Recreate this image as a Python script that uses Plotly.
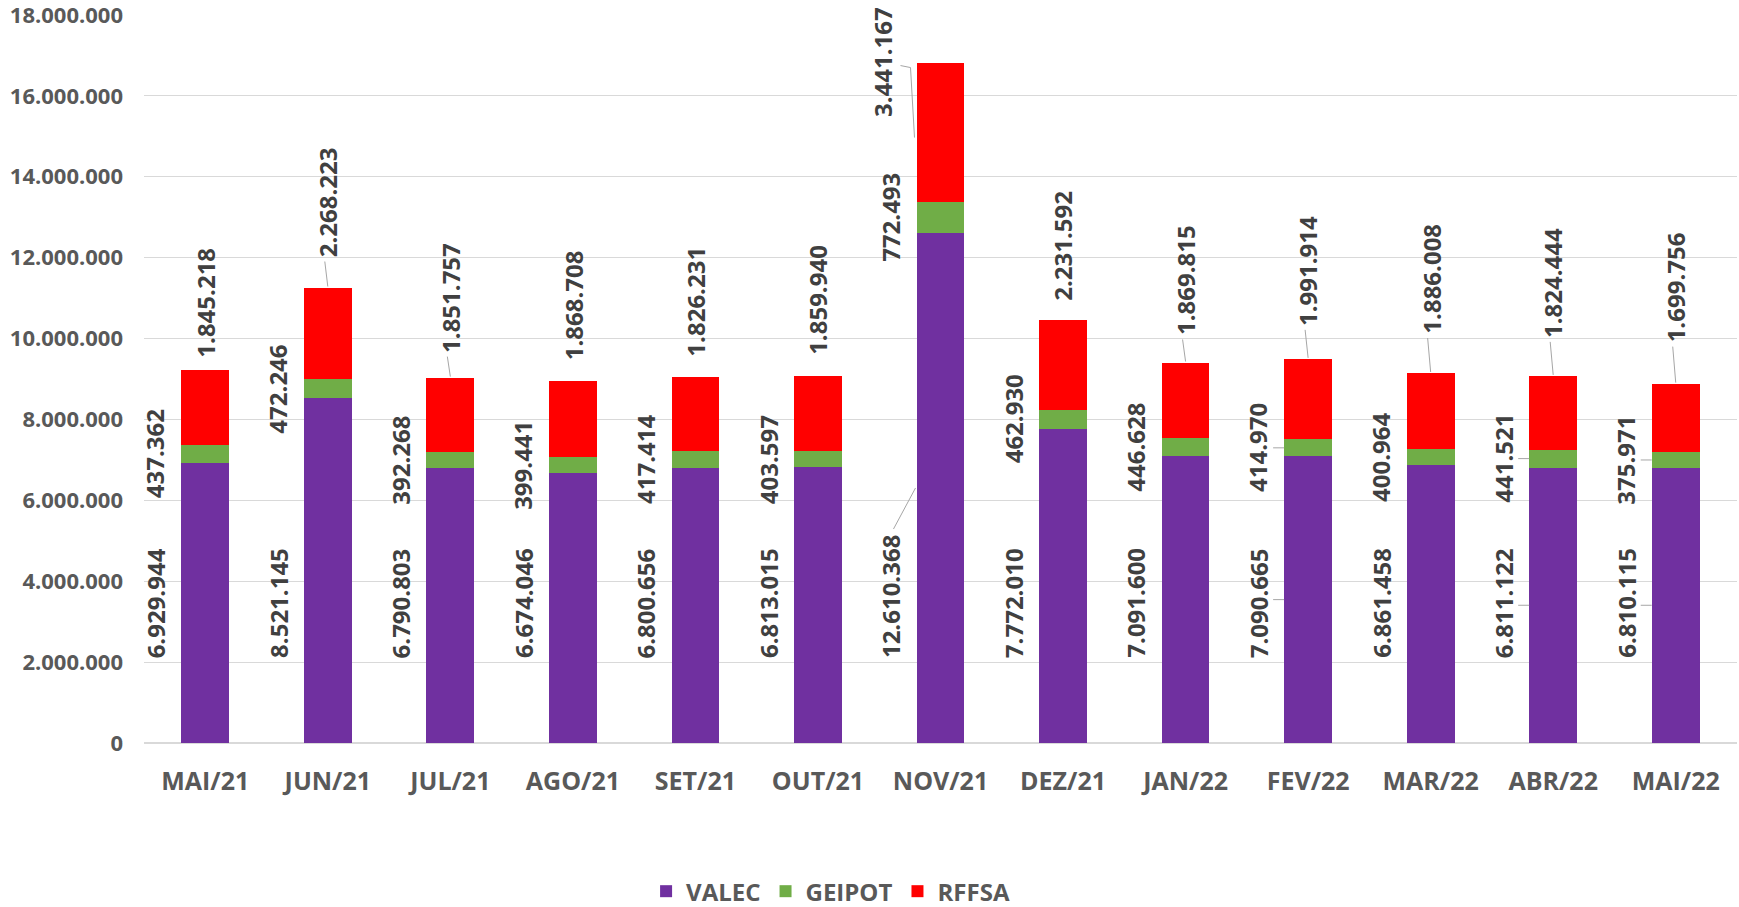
import plotly.graph_objects as go

meses = ["MAI/21", "JUN/21", "JUL/21", "AGO/21", "SET/21", "OUT/21", "NOV/21",
         "DEZ/21", "JAN/22", "FEV/22", "MAR/22", "ABR/22", "MAI/22"]
valec = [6929944, 8521145, 6790803, 6674046, 6800656, 6813015, 12610368,
         7772010, 7091600, 7090665, 6861458, 6811122, 6810115]
geipot = [437362, 472246, 392268, 399441, 417414, 403597, 772493,
          462930, 446628, 414970, 400964, 441521, 375971]
rffsa = [1845218, 2268223, 1851757, 1868708, 1826231, 1859940, 3441167,
         2231592, 1869815, 1991914, 1886008, 1824444, 1699756]

# distancia (px) entre o topo da barra e o rótulo RFFSA
gap_rffsa = [11, 28, 23, 19, 19, 19, 0, 17, 25, 31, 37, 36, 39]
# meses com linha de chamada curta nos rótulos VALEC/GEIPOT
com_lider = ["FEV/22", "ABR/22", "MAI/22"]

cores = {"VALEC": "#7030A0", "GEIPOT": "#70AD47", "RFFSA": "#FF0000"}
fonte = "Open Sans"
cinza_txt = "#595959"
cinza_lbl = "#404040"
cinza_linha = "#a6a6a6"


def fmt(v):
    return f"{v:,}".replace(",", ".")


def linha_px(i, y, x0, x1, y0, y1):
    return dict(type="line", xref="x", yref="y", xsizemode="pixel", ysizemode="pixel",
                xanchor=i, yanchor=y, x0=x0, x1=x1, y0=y0, y1=y1,
                line=dict(color=cinza_linha, width=1))


fig = go.Figure()
for nome, vals in [("VALEC", valec), ("GEIPOT", geipot), ("RFFSA", rffsa)]:
    fig.add_trace(go.Bar(
        x=meses, y=vals, name=nome,
        marker=dict(color=cores[nome], line=dict(width=0)),
    ))

anots = []
linhas = []
lbl_font = dict(family=fonte, size=24, color=cinza_lbl, weight="bold")
for i, m in enumerate(meses):
    # VALEC: à esquerda da barra, base fixa
    anots.append(dict(x=m, y=2050000, text=fmt(valec[i]), textangle=-90,
                      xshift=-50, yanchor="bottom", showarrow=False, font=lbl_font))
    # GEIPOT: à esquerda, centrado no segmento
    y_geipot = valec[i] + geipot[i] / 2
    anots.append(dict(x=m, y=y_geipot, text=fmt(geipot[i]), textangle=-90,
                      xshift=-50, yanchor="middle", showarrow=False, font=lbl_font))
    if m in com_lider:
        linhas.append(linha_px(i, valec[i] / 2, -35, -24, 0, 0))
        linhas.append(linha_px(i, y_geipot, -35, -24, 0, 0))

    total = valec[i] + geipot[i] + rffsa[i]
    if m == "NOV/21":
        anots.append(dict(x=m, y=total, text=fmt(rffsa[i]), textangle=-90,
                          xshift=-58, yanchor="middle", showarrow=False, font=lbl_font))
        # linhas de chamada até a barra
        linhas.append(dict(type="path", xref="x", yref="y", xsizemode="pixel", ysizemode="pixel",
                           xanchor=i, yanchor=total,
                           path="M-40,-3 L-30,-5 L-26,-75",
                           line=dict(color=cinza_linha, width=1)))
        linhas.append(linha_px(i, valec[i] / 2, -47, -25, -41, 0))
        continue
    anots.append(dict(x=m, y=total, text=fmt(rffsa[i]), textangle=-90,
                      yanchor="bottom", yshift=gap_rffsa[i], showarrow=False, font=lbl_font))
    if gap_rffsa[i] >= 22:
        linhas.append(linha_px(i, total, -3, 0, gap_rffsa[i] - 2, 1))

fig.update_layout(
    barmode="stack",
    bargap=0.61,
    width=1739, height=907,
    margin=dict(l=144, r=2, t=15, b=164),
    paper_bgcolor="white", plot_bgcolor="white",
    separators=",.",
    font=dict(family=fonte, color=cinza_txt),
    annotations=anots,
    shapes=linhas,
    legend=dict(orientation="h", xref="paper", x=0.431, xanchor="center",
                yref="container", y=0.017, yanchor="middle",
                traceorder="normal",
                font=dict(family=fonte, size=24, color=cinza_txt, weight="bold")),
)
fig.update_yaxes(range=[0, 18000000], dtick=2000000, tickformat=",d", automargin=False,
                 gridcolor="#d9d9d9", gridwidth=1, zeroline=True, zerolinecolor="#d9d9d9",
                 showline=False, ticklabelstandoff=20, ticklabeloverflow="allow",
                 tickfont=dict(family=fonte, size=22, color=cinza_txt, weight="bold"))
fig.update_xaxes(type="category", range=[-0.5, 12.5], automargin=False,
                 showgrid=False, showline=False, ticks="",
                 ticklabelstandoff=21,
                 tickfont=dict(family=fonte, size=25, color=cinza_txt, weight="bold"))

fig.write_html("out.html", config={"displayModeBar": False},
               post_script="document.body.style.margin='0';")
